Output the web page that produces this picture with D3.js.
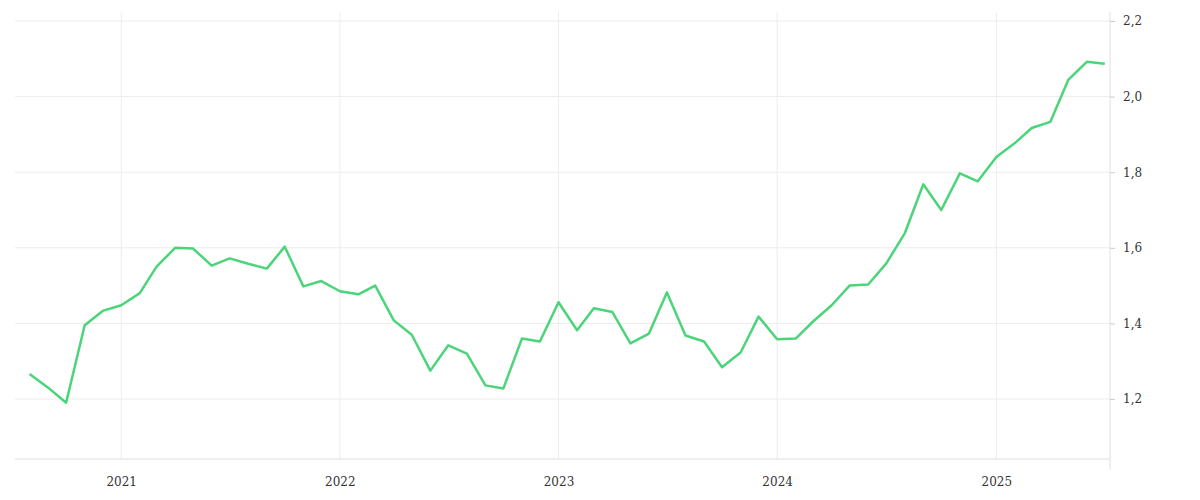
<!DOCTYPE html>
<html><head><meta charset="utf-8">
<script src="https://cdn.jsdelivr.net/npm/d3@7"></script>
<style>body{margin:0;background:#fff}</style></head>
<body><svg id="c" width="1200" height="500"></svg>
<script>
const startMonth = "2020-08";
const values = [1.266,1.23,1.19,1.395,1.433,1.448,1.48,1.55,1.60,1.598,1.553,1.572,1.558,1.545,1.603,1.498,1.512,1.485,1.477,1.50,1.408,1.37,1.275,1.342,1.32,1.236,1.228,1.36,1.352,1.456,1.382,1.44,1.43,1.347,1.373,1.482,1.368,1.352,1.284,1.323,1.418,1.358,1.36,1.405,1.448,1.50,1.503,1.558,1.638,1.768,1.70,1.797,1.776,1.84,1.877,1.917,1.933,2.044,2.092,2.087];
const yTicks = [1.2,1.4,1.6,1.8,2.0,2.2];
const xTickYears = [2021,2022,2023,2024,2025];

const p = d3.timeParse("%Y-%m");
const s = p(startMonth);
const data = values.map((v,i)=>({d:d3.timeMonth.offset(s,i),v}));
const svg = d3.select("#c");
const L=15,R=1110,T=12,B=459;
const x = d3.scaleTime().domain([new Date(2020,0,1),new Date(2026,0,1)]).range([121-219,996+219]);
const y = d3.scaleLinear().domain([1.2,2.2]).range([399,21]);
const yearDates = xTickYears.map(yr=>new Date(yr,0,1));
const g = svg.append("g");
g.selectAll(".vg").data(yearDates).join("line").attr("x1",d=>x(d)).attr("x2",d=>x(d)).attr("y1",T).attr("y2",B).attr("stroke","#ececec");
g.selectAll(".hg").data(yTicks).join("line").attr("x1",L).attr("x2",R).attr("y1",d=>y(d)).attr("y2",d=>y(d)).attr("stroke","#ececec");
g.append("line").attr("x1",L).attr("x2",R).attr("y1",B).attr("y2",B).attr("stroke","#e0e0e0");
g.append("line").attr("x1",R).attr("x2",R).attr("y1",T).attr("y2",470).attr("stroke","#e0e0e0");
const fmt = d=>d.toFixed(1).replace(".",",");
const ya = d3.axisRight(y).tickValues(yTicks).tickFormat(fmt).tickSize(5).tickPadding(8);
svg.append("g").attr("transform",`translate(${R},0)`).call(ya).call(a=>{a.select(".domain").remove();a.selectAll("line").attr("stroke","#ccc");a.selectAll("text").attr("font-family","DejaVu Serif").attr("font-size",12).attr("fill","#333");});
const xa = d3.axisBottom(x).tickValues(yearDates).tickFormat(d3.timeFormat("%Y")).tickSize(0).tickPadding(18);
svg.append("g").attr("transform",`translate(0,${B})`).call(xa).call(a=>{a.select(".domain").remove();a.selectAll("text").attr("font-family","DejaVu Serif").attr("font-size",12).attr("fill","#333");});
svg.append("path").datum(data).attr("fill","none").attr("stroke","#4cd47b").attr("stroke-width",2.5).attr("stroke-linejoin","round")
  .attr("d",d3.line().x(d=>x(d.d)).y(d=>y(d.v)));
</script></body></html>
